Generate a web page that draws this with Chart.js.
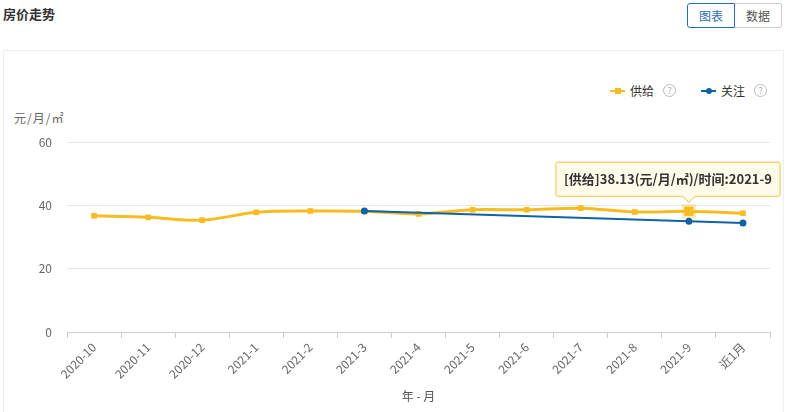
<!DOCTYPE html>
<html>
<head>
<meta charset="utf-8">
<script src="https://cdn.jsdelivr.net/npm/chart.js@4/dist/chart.umd.min.js"></script>
<style>
  html, body { margin:0; padding:0; background:#fff; width:785px; height:412px; overflow:hidden;
    font-family: "Noto Sans CJK SC", "Noto Sans", sans-serif; }
  .title { position:absolute; left:3px; top:4px; font-size:13px; font-weight:bold; color:#333; }
  .btns { position:absolute; left:687px; top:3px; display:flex; }
  .btn { width:46px; height:23px; line-height:23px; text-align:center; font-size:12px; border:1px solid #ccc; color:#555; background:#fff; }
  .btn.on { border-color:#2d6cb5; color:#2d6cb5; border-radius:3px 0 0 3px; }
  .btn.off { border-left:none; border-radius:0 3px 3px 0; }
  .card { position:absolute; left:3px; top:50px; width:779px; height:370px; border:1px solid #eee; }
  .ytitle { position:absolute; left:14px; top:109px; font-size:12px; color:#666; letter-spacing:1px; }
  .legend { position:absolute; left:610px; top:82px; width:180px; display:flex; align-items:center; font-size:12px; color:#333; white-space:nowrap; }
  .lg { display:flex; align-items:center; margin-right:25px; flex:none; }
  .sym { position:relative; width:15px; height:2px; margin-right:5px; flex:none; }
  .sym i { position:absolute; left:5px; top:-2px; width:6px; height:6px; }
  .q { display:inline-block; width:11px; height:11px; line-height:11px; border:1px solid #bbb; border-radius:50%;
       color:#aaa; font-size:9px; text-align:center; margin-left:9px; flex:none; }
  canvas { position:absolute; left:0; top:0; }
</style>
</head>
<body>
<div class="card"></div>
<div class="title">房价走势</div>
<div class="btns"><div class="btn on">图表</div><div class="btn off">数据</div></div>
<div class="ytitle">元/月/㎡</div>
<div class="legend">
  <div class="lg"><span class="sym" style="background:#f7bc21"><i style="background:#f7bc21"></i></span>供给<span class="q">?</span></div>
  <div class="lg"><span class="sym" style="background:#0f62a8"><i style="background:#0f62a8;border-radius:50%"></i></span>关注<span class="q">?</span></div>
</div>
<canvas id="c" width="785" height="412"></canvas>
<script>
/* ---- 데이터 ---- */
const months = ['2020-10','2020-11','2020-12','2021-1','2021-2','2021-3','2021-4','2021-5','2021-6','2021-7','2021-8','2021-9','近1月'];
const supply = [36.7, 36.2, 35.3, 37.8, 38.2, 38.1, 37.3, 38.6, 38.6, 39.1, 37.9, 38.13, 37.5];
const follow = [null, null, null, null, null, 38.2, null, null, null, null, null, 35.0, 34.4];
const yTicks = [0, 20, 40, 60];
const TIP_IDX = 11; // 툴팁 표시 위치 (2021-9)

const YEL = '#f7bc21', BLUE = '#0f62a8';
const FONT = '"Noto Sans CJK SC", "Noto Sans", sans-serif';

// 툴팁 직접 그리기
const tipPlugin = {
  id: 'tip',
  afterDatasetsDraw(chart) {
    const pt = chart.getDatasetMeta(0).data[TIP_IDX];
    if (!pt) return;
    const ctx = chart.ctx;
    const text = `[供给]${supply[TIP_IDX].toFixed(2)}(元/月/㎡)/时间:${months[TIP_IDX]}`;
    ctx.save();
    ctx.font = 'bold 13px ' + FONT;
    const w = ctx.measureText(text).width + 16, h = 34;
    let x = pt.x - w / 2;
    if (x + w > chart.width - 5) x = chart.width - 5 - w;
    const bottom = pt.y - 15, y = bottom - h;
    ctx.fillStyle = '#fffbea';
    ctx.strokeStyle = '#f2c94c';
    ctx.lineWidth = 1;
    ctx.beginPath();
    ctx.moveTo(x + 2, y);
    ctx.lineTo(x + w - 2, y); ctx.quadraticCurveTo(x + w, y, x + w, y + 2);
    ctx.lineTo(x + w, bottom - 2); ctx.quadraticCurveTo(x + w, bottom, x + w - 2, bottom);
    ctx.lineTo(pt.x + 6, bottom); ctx.lineTo(pt.x, bottom + 6); ctx.lineTo(pt.x - 6, bottom);
    ctx.lineTo(x + 2, bottom); ctx.quadraticCurveTo(x, bottom, x, bottom - 2);
    ctx.lineTo(x, y + 2); ctx.quadraticCurveTo(x, y, x + 2, y);
    ctx.closePath();
    ctx.shadowColor = 'rgba(0,0,0,0.12)'; ctx.shadowBlur = 3;
    ctx.fill();
    ctx.shadowBlur = 0;
    ctx.stroke();
    ctx.fillStyle = '#333';
    ctx.textBaseline = 'middle';
    ctx.fillText(text, x + 8, y + h / 2);
    ctx.restore();
  }
};

const radius = (r, big) => months.map((_, i) => i === TIP_IDX ? big : r);

new Chart(document.getElementById('c'), {
  type: 'line',
  data: {
    labels: months,
    datasets: [
      { label: '供给', data: supply, borderColor: YEL, backgroundColor: YEL, borderWidth: 3,
        tension: 0.35, pointStyle: 'rect', pointRadius: radius(4, 6.5),
        pointBorderWidth: radius(0, 5), pointBorderColor: radius('rgba(0,0,0,0)', 'rgba(247,188,33,0.3)'), order: 2 },
      { label: '关注', data: follow, borderColor: BLUE, backgroundColor: BLUE, borderWidth: 2,
        spanGaps: true, tension: 0, pointRadius: 3.5, pointBorderWidth: 0, order: 1 }
    ]
  },
  options: {
    responsive: false,
    animation: false,
    layout: { padding: { left: 0, top: 142, right: 15, bottom: 0 } },
    plugins: { legend: { display: false }, tooltip: { enabled: false } },
    scales: {
      x: {
        offset: true,
        grid: { offset: true, drawOnChartArea: false, color: '#ccc', tickLength: 6 },
        border: { color: '#ccc' },
        ticks: { color: '#666', font: { size: 12, family: FONT }, minRotation: 45, maxRotation: 45, padding: 2 },
        title: { display: true, text: '年 - 月', color: '#555', font: { size: 12, family: FONT }, padding: { top: 0, bottom: 8 } },
        afterFit(s) { s.height = 80; }
      },
      y: {
        min: 0, max: 60,
        afterBuildTicks(s) { s.ticks = yTicks.map(v => ({ value: v })); },
        grid: { color: '#e6e6e6', drawTicks: false },
        border: { display: false },
        ticks: { color: '#666', font: { size: 12, family: FONT }, padding: 15 },
        afterFit(s) { s.width = 67; }
      }
    }
  },
  plugins: [tipPlugin]
});
</script>
</body>
</html>
